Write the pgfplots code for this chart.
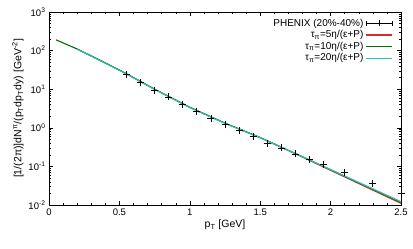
\documentclass[border=0pt]{standalone}
\usepackage{fontspec}
\setmainfont{Liberation Sans}
\usepackage{pgfplots}
\pgfplotsset{compat=1.18}
\definecolor{cred}{RGB}{220,40,40}
\definecolor{cgreen}{RGB}{0,110,0}
\definecolor{ccyan}{RGB}{40,195,190}
\begin{document}
\begin{tikzpicture}
\begin{axis}[
  name=ax,
  scale only axis,
  width=352pt, height=193pt,
  xmin=0, xmax=2.5, ymin=0.01, ymax=1000,
  ymode=log,
  clip=false,
  xtick={0,0.5,1,1.5,2,2.5},
  xticklabels={0,0.5,1,1.5,2,2.5},
  minor x tick num=4,
  tick align=inside,
  tick style={black, thin},
  major tick length=4pt, minor tick length=2pt,
  ytick={0.01,0.1,1,10,100,1000},
  log number format basis/.code 2 args={#1\textsuperscript{\pgfmathprintnumber[assume math mode=true]{#2}}},
  /pgf/number format/assume math mode=true,
  tick label style={font=\fontsize{9.5}{11}\selectfont},
  xlabel={p\textsubscript{T} [GeV]},
  ylabel={[1/(2π)]dN\textsuperscript{π}/(p\textsubscript{T}dp\textsubscript{T}dy) [GeV\textsuperscript{-2}]},
  label style={font=\fontsize{10.5}{12}\selectfont},
  xlabel style={yshift=2pt},
  ylabel style={yshift=-2pt},
  legend style={at={(0.985,0.985)}, anchor=north east, draw=none, fill=none,
    font=\fontsize{10}{11.7}\selectfont, legend cell align=right,
    legend plot pos=right, row sep=-1.2pt},
  axis line style={black},
]
\addplot[cred, line width=1.1pt, forget plot] coordinates {
  (0.2,110) (0.4,47.9) (0.55,25.1) (0.75,10.0) (1.0,3.39) (1.25,1.31)
  (1.5,0.555) (1.75,0.212) (2.0,0.079) (2.25,0.0295) (2.5,0.011)
};
\addplot[cgreen, line width=1.1pt, forget plot] coordinates {
  (0.05,190) (0.2,110) (0.4,47.9) (0.55,25.1) (0.75,10.0) (1.0,3.39) (1.25,1.32)
  (1.5,0.56) (1.75,0.216) (2.0,0.082) (2.25,0.031) (2.5,0.0118)
};
\addplot[ccyan, line width=1.1pt, forget plot] coordinates {
  (0.2,108.5) (0.4,47.3) (0.55,24.7) (0.75,9.85) (1.0,3.34) (1.25,1.30)
  (1.5,0.553) (1.75,0.216) (2.0,0.0825) (2.25,0.0318) (2.5,0.0122)
};
\addplot[black, only marks, mark=+, mark size=3.5pt, thick,
  legend image code/.code={
    \draw[black, thick] (0pt,0pt) -- (26pt,0pt);
    \draw[black, thick] (0pt,-2.5pt) -- (0pt,2.5pt);
    \draw[black, thick] (26pt,-2.5pt) -- (26pt,2.5pt);
    \draw[black, thick] (13pt,-3pt) -- (13pt,3pt);
  }] coordinates {
  (0.55,23.6) (0.65,14.9) (0.75,9.5) (0.85,6.3) (0.95,4.1) (1.05,2.6)
  (1.15,1.78) (1.25,1.2) (1.35,0.87) (1.45,0.6) (1.55,0.40) (1.65,0.30)
  (1.75,0.21) (1.85,0.148) (1.95,0.11) (2.10,0.068) (2.30,0.036) (2.50,0.020)
};
\addlegendentry{PHENIX (20\%-40\%)}
\addlegendimage{cred, line width=1.1pt, legend image code/.code={\draw[cred, line width=1.1pt] (0pt,0pt) -- (26pt,0pt);}}
\addlegendentry{τ\textsubscript{π}=5η/(ε+P)}
\addlegendimage{cgreen, line width=1.1pt, legend image code/.code={\draw[cgreen, line width=1.1pt] (0pt,0pt) -- (26pt,0pt);}}
\addlegendentry{τ\textsubscript{π}=10η/(ε+P)}
\addlegendimage{ccyan, line width=1.1pt, legend image code/.code={\draw[ccyan, line width=1.1pt] (0pt,0pt) -- (26pt,0pt);}}
\addlegendentry{τ\textsubscript{π}=20η/(ε+P)}
\end{axis}
\pgfresetboundingbox
\path[use as bounding box] ([xshift=-49pt,yshift=-43pt]ax.south west) rectangle ([xshift=12pt,yshift=12pt]ax.north east);
\end{tikzpicture}
\end{document}
